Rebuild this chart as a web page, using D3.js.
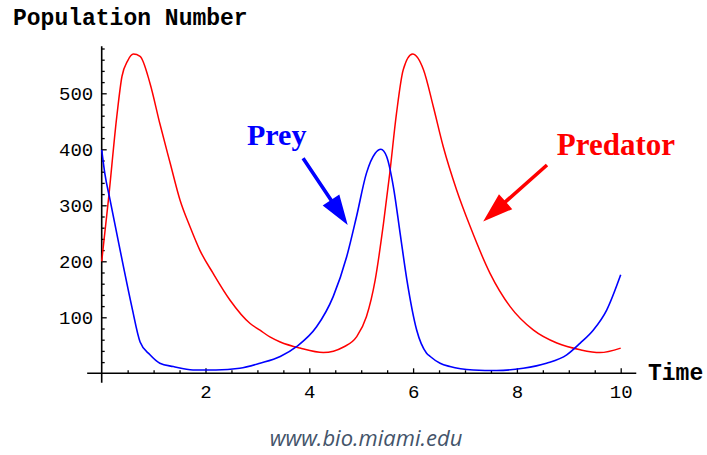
<!DOCTYPE html>
<html lang="en">
<head>
<meta charset="UTF-8">
<title>Population Number</title>
<script src="https://d3js.org/d3.v7.min.js"></script>
<style>
  html, body { margin: 0; padding: 0; background: #fff; }
  svg { display: block; }
  .mono { font-family: "Liberation Mono", "Courier New", monospace; }
  .tick text { font-family: "Liberation Mono", "Courier New", monospace; font-size: 19px; fill: #000; }
  .tick line { stroke: #000; stroke-width: 1.3; }
</style>
</head>
<body>
<svg width="707" height="455"></svg>
<script>
  // predator curve (time, number)
  const predTime = [0, 0.13, 0.29, 0.39, 0.5, 0.61, 0.74, 0.93, 1.12, 1.32, 1.51, 1.70, 1.89, 2.15, 2.47, 2.86, 3.05, 3.24, 3.44, 3.82, 4.27, 4.66, 4.91, 5.1, 5.27, 5.43, 5.55, 5.68, 5.81, 5.99, 6.2, 6.39, 6.58, 6.84, 7.10, 7.48, 7.87, 8.32, 8.77, 9.22, 9.6, 10];
  const predValues = [200, 310, 458, 530, 558, 570, 566, 518, 446, 375, 309, 262, 220, 178, 131, 89, 77, 65, 56, 45, 37, 47, 65, 101, 167, 268, 357, 464, 542, 570, 542, 476, 405, 327, 262, 179, 119, 77, 54, 42, 37, 45];

  // prey curve (time, number)
  const preyTime = [0, 0.06, 0.16, 0.29, 0.42, 0.58, 0.74, 0.93, 1.12, 1.38, 1.76, 2.2, 2.66, 3.05, 3.44, 3.76, 4.14, 4.46, 4.72, 4.91, 5.1, 5.27, 5.38, 5.49, 5.62, 5.75, 5.88, 6.07, 6.26, 6.33, 6.52, 6.71, 7.16, 7.61, 8.12, 8.57, 8.96, 9.22, 9.47, 9.73, 10];
  const preyValues = [399, 357, 310, 250, 190, 119, 56, 33, 18, 12, 6, 6, 9, 18, 30, 48, 83, 137, 208, 280, 357, 393, 400, 387, 333, 250, 167, 77, 36, 30, 18, 12, 6, 5, 9, 18, 33, 54, 77, 113, 176];

  const xTicks = [2, 4, 6, 8, 10];
  const yTicks = [100, 200, 300, 400, 500];

  const svg = d3.select("svg");

  const x = d3.scaleLinear().domain([0, 10]).range([101.7, 620.7]);
  const y = d3.scaleLinear().domain([0, 500]).range([373.3, 93.3]);

  // axis lines (extend a bit past the data like Mathematica)
  svg.append("line")
      .attr("x1", x(-0.28)).attr("x2", x(10.3))
      .attr("y1", y(0)).attr("y2", y(0))
      .attr("stroke", "#000").attr("stroke-width", 1.6);
  svg.append("line")
      .attr("x1", x(0)).attr("x2", x(0))
      .attr("y1", y(-17)).attr("y2", y(584))
      .attr("stroke", "#000").attr("stroke-width", 1.6);

  // minor ticks
  const xMinor = d3.range(0.5, 10.01, 0.5).filter(v => !xTicks.includes(v));
  const yMinor = d3.range(20, 581, 20).filter(v => !yTicks.includes(v));

  svg.append("g")
      .attr("transform", `translate(0,${y(0)})`)
      .call(d3.axisBottom(x).tickValues(xMinor).tickSize(-3).tickFormat(""))
      .call(g => g.select(".domain").remove());
  svg.append("g")
      .attr("transform", `translate(${x(0)},0)`)
      .call(d3.axisLeft(y).tickValues(yMinor).tickSize(-3).tickFormat(""))
      .call(g => g.select(".domain").remove());

  // major ticks with labels
  svg.append("g")
      .attr("transform", `translate(0,${y(0)})`)
      .call(d3.axisBottom(x).tickValues(xTicks).tickSize(-5).tickPadding(11).tickFormat(d3.format("d")))
      .call(g => g.select(".domain").remove());
  svg.append("g")
      .attr("transform", `translate(${x(0)},0)`)
      .call(d3.axisLeft(y).tickValues(yTicks).tickSize(-5).tickPadding(8.5).tickFormat(d3.format("d")))
      .call(g => g.select(".domain").remove());

  // axis titles
  svg.append("text")
      .attr("class", "mono")
      .attr("x", 13).attr("y", 25)
      .attr("font-size", 23).attr("font-weight", "bold")
      .text("Population Number");
  svg.append("text")
      .attr("class", "mono")
      .attr("x", 648).attr("y", 380)
      .attr("font-size", 23).attr("font-weight", "bold")
      .text("Time");

  // curves
  const line = d3.line()
      .x(d => x(d[0]))
      .y(d => y(d[1]))
      .curve(d3.curveMonotoneX);

  svg.append("path")
      .datum(d3.zip(predTime, predValues))
      .attr("fill", "none")
      .attr("stroke", "#ff0000")
      .attr("stroke-width", 1.5)
      .attr("d", line);

  svg.append("path")
      .datum(d3.zip(preyTime, preyValues))
      .attr("fill", "none")
      .attr("stroke", "#0000ff")
      .attr("stroke-width", 1.6)
      .attr("d", line);

  // annotation arrows
  function arrow(t0, v0, t1, v1, color) {
    const x0 = x(t0), y0 = y(v0), x1 = x(t1), y1 = y(v1);
    const dx = x1 - x0, dy = y1 - y0, len = Math.hypot(dx, dy);
    const ux = dx / len, uy = dy / len, nx = -uy, ny = ux;
    const headLen = 30, headW = 10, shaft = 1.8;
    const bx = x1 - ux * headLen, by = y1 - uy * headLen;
    const pts = [
      [x0 + nx * shaft, y0 + ny * shaft],
      [bx + nx * shaft, by + ny * shaft],
      [bx + nx * headW, by + ny * headW],
      [x1, y1],
      [bx - nx * headW, by - ny * headW],
      [bx - nx * shaft, by - ny * shaft],
      [x0 - nx * shaft, y0 - ny * shaft]
    ];
    svg.append("path")
        .attr("d", "M" + pts.map(p => p.join(",")).join("L") + "Z")
        .attr("fill", color);
  }

  arrow(3.88, 384, 4.74, 265, "#0000ff");
  arrow(8.58, 372, 7.35, 271, "#ff0000");

  svg.append("text")
      .attr("x", x(2.8)).attr("y", y(408))
      .attr("font-family", "'Liberation Serif', 'Times New Roman', serif")
      .attr("font-weight", "bold").attr("font-size", 30)
      .attr("fill", "#0000ff")
      .text("Prey");

  svg.append("text")
      .attr("x", x(8.77)).attr("y", y(390))
      .attr("font-family", "'Liberation Serif', 'Times New Roman', serif")
      .attr("font-weight", "bold").attr("font-size", 31)
      .attr("fill", "#ff0000")
      .text("Predator");

  // source caption
  svg.append("text")
      .attr("x", 366).attr("y", 446)
      .attr("text-anchor", "middle")
      .attr("font-family", "'Open Sans', Lato, sans-serif")
      .attr("font-style", "italic").attr("font-size", 22)
      .attr("fill", "#44546a")
      .text("www.bio.miami.edu");
</script>
</body>
</html>
